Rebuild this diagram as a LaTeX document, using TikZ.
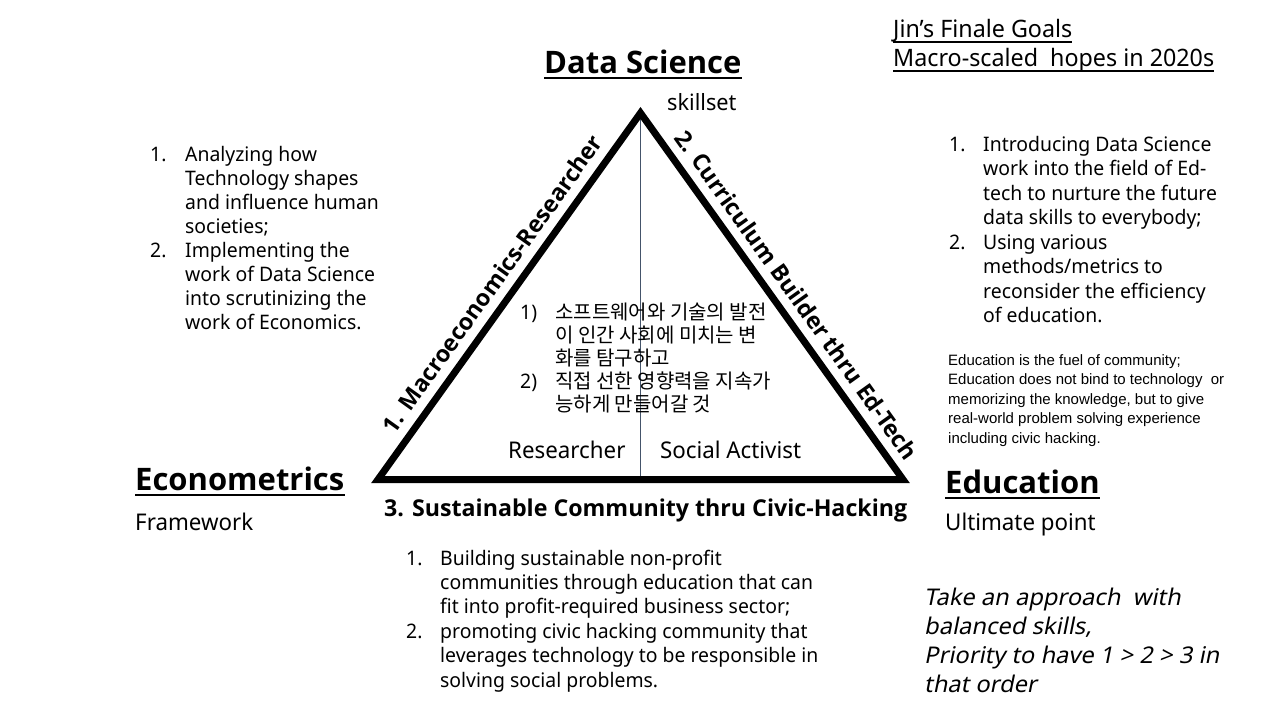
\documentclass[tikz,border=0pt]{standalone}
\usepackage{fontspec}
\setmainfont{Noto Sans}[FakeStretch=0.97]
\newfontfamily\bfam{Open Sans}
\newfontfamily\krfam{Noto Sans CJK KR}
\newfontfamily\arfam{Liberation Sans}
\newfontfamily\oblfam{Noto Sans}[FakeSlant=0.2,FakeStretch=1.03]
\definecolor{axisblue}{HTML}{44546A}
\newcommand\fsz[2]{\fontsize{#1}{#2}\selectfont}
\newcommand\numbox[2][35pt]{\makebox[#1][l]{#2}}

\begin{document}
\begin{tikzpicture}[x=1pt,y=-1pt,
  txt/.style={inner sep=0pt, anchor=base west},
  blk/.style={inner sep=0pt, anchor=north west},
  ttl/.style={txt, font=\bfam\bfseries\fsz{31}{38}},
  sub/.style={txt, font=\fsz{23}{27}},
  uline/.style={line width=2.4pt},
  thinuline/.style={line width=1.4pt},
  side/.style={line width=7pt, line join=miter},
  edgelab/.style={sloped, above=12pt, inner sep=0pt, font=\bfam\bfseries\fsz{23.2}{28}},
  axis/.style={line width=1pt, draw=axisblue}]

\fill[white] (0,0) rectangle (1280,720);
\useasboundingbox (0,0) rectangle (1280,720);

% corners of the triangle
\coordinate (A) at (640.5,113);
\coordinate (L) at (378,479.5);
\coordinate (R) at (903,479.5);
\coordinate (M) at (640.5,483);

% the triangle and its middle divider
\draw[axis] (A) -- (M);
\draw[side] (L) -- (A) -- (R) -- cycle;
\path (L) -- node[edgelab, pos=0.5] (lab1) {1. Macroeconomics-Researcher} (A);
\path (A) -- node[edgelab, pos=0.53] (lab2) {2. Curriculum Builder thru Ed-Tech} (R);
\node[txt, font=\bfam\bfseries\fsz{23.2}{28}] (lab3) at (384,516) {3. Sustainable Community thru Civic-Hacking};

% corner titles
\node[ttl] (ds) at (544,73) {Data Science};
\draw[uline] ([yshift=-5pt]ds.base west) -- ([yshift=-5pt]ds.base east);
\node[sub, font=\fsz{22.4}{27}] (skill) at (667,110) {skillset};

\node[ttl] (econ) at (135,490) {Econometrics};
\draw[uline] ([yshift=-5pt]econ.base west) -- ([yshift=-5pt]econ.base east);
\node[sub] (frame) at (135,530) {Framework};

\node[ttl] (edu) at (945,493) {Education};
\draw[uline] ([yshift=-5pt]edu.base west) -- ([yshift=-5pt]edu.base east);
\node[sub] (ult) at (945,530) {Ultimate point};

% heading at the top right
\node[sub, font=\fsz{24}{28}] (goal1) at (893,37) {Jin’s Finale Goals};
\draw[thinuline] ([yshift=-5pt]goal1.base west) -- ([yshift=-5pt]goal1.base east);
\node[sub, font=\fsz{24}{28}] (goal2) at (893,66) {Macro-scaled\ \ hopes in 2020s};
\draw[thinuline] ([yshift=-5pt]goal2.base west) -- ([yshift=-5pt]goal2.base east);

% inside the triangle
\node[sub] (res) at (508,458) {Researcher};
\node[sub] (act) at (660,458) {Social Activist};

\node[blk, font=\fsz{20}{21.8}] (korean) at (520,302.7) {\begin{tabular}{@{}l@{}}
\numbox{1)}{\krfam 소프트웨어와 기술의 발전}\\
\numbox{}{\krfam 이 인간 사회에 미치는 변}\\
\numbox{}{\krfam 화를 탐구하고}\\
\numbox{2)}{\krfam 직접 선한 영향력을 지속가}\\
\numbox{}{\krfam 능하게 만들어갈 것}
\end{tabular}};

% lists beside each corner
\node[blk, font=\fsz{20}{24}] (econlist) at (150,144.2) {\begin{tabular}{@{}l@{}}
\numbox{1.}Analyzing how\\
\numbox{}Technology shapes\\
\numbox{}and influence human\\
\numbox{}societies;\\
\numbox{2.}Implementing the\\
\numbox{}work of Data Science\\
\numbox{}into scrutinizing the\\
\numbox{}work of Economics.
\end{tabular}};

\node[blk, font=\fsz{20}{24.5}] (edulist) at (949,133.9) {\begin{tabular}{@{}l@{}}
\numbox[34pt]{1.}Introducing Data Science\\
\numbox[34pt]{}work into the field of Ed-\\
\numbox[34pt]{}tech to nurture the future\\
\numbox[34pt]{}data skills to everybody;\\
\numbox[34pt]{2.}Using various\\
\numbox[34pt]{}methods/metrics to\\
\numbox[34pt]{}reconsider the efficiency\\
\numbox[34pt]{}of education.
\end{tabular}};

\node[blk, font=\arfam\fsz{15}{19.5}] (edunote) at (948,351.4) {\begin{tabular}{@{}l@{}}
Education is the fuel of community;\\
Education does not bind to technology\ \ or\\
memorizing the knowledge, but to give\\
real-world problem solving experience\\
including civic hacking.
\end{tabular}};

\node[blk, font=\fsz{20}{24.4}] (civlist) at (406,547.9) {\begin{tabular}{@{}l@{}}
\numbox[34pt]{1.}Building sustainable non-profit\\
\numbox[34pt]{}communities through education that can\\
\numbox[34pt]{}fit into profit-required business sector;\\
\numbox[34pt]{2.}promoting civic hacking community that\\
\numbox[34pt]{}leverages technology to be responsible in\\
\numbox[34pt]{}solving social problems.
\end{tabular}};

\node[blk, font=\oblfam\fsz{23}{29}] (approach) at (924,584.7) {\begin{tabular}{@{}l@{}}
Take an approach\ \ with\\
balanced skills,\\
Priority to have 1 > 2 > 3 in\\
that order
\end{tabular}};

\end{tikzpicture}
\end{document}
